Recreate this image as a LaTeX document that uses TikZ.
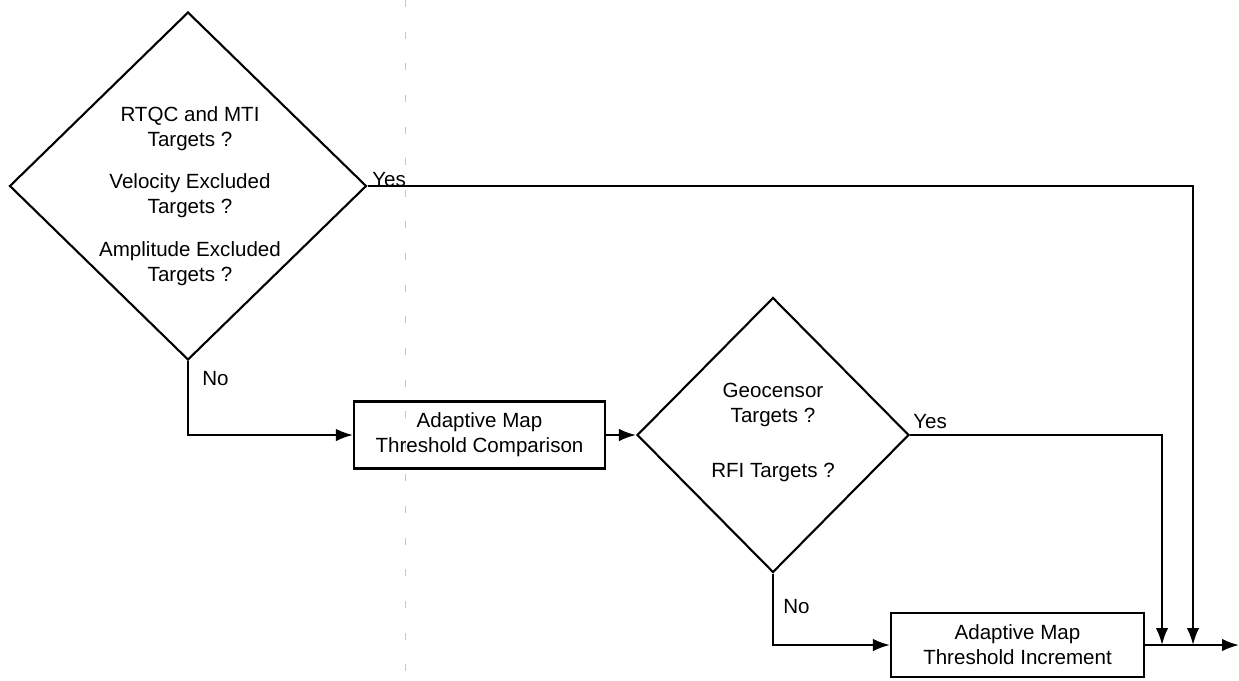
\documentclass[tikz,border=0pt]{standalone}
\usepackage{fontspec}
\setmainfont{Liberation Sans}
\usetikzlibrary{shapes.geometric, arrows.meta}

\begin{document}
\begin{tikzpicture}[x=0.02cm, y=-0.02cm,
    every node/.style={font=\fontsize{11.7pt}{14.2pt}\selectfont},
    decision/.style={draw, diamond, line width=1.2pt, inner sep=0pt, align=center},
    procbox/.style={draw, rectangle, line width=1.2pt, align=center},
    arr/.style={-{Latex[length=0.34cm, width=0.25cm]}, line width=1.2pt},
    flowline/.style={line width=1.2pt}]

        \useasboundingbox (0,0) rectangle (1239,680);

        % Fold mark of the scan
        \draw[gray!45, line width=0.4pt, dash pattern=on 4pt off 14pt] (405,0) -- (405,680);

        % First decision
        \node[decision, minimum width=7.14cm, minimum height=6.96cm] (qfirst) at (188,186) {};
        \node[align=center] (qfirsttext) at (190,196)
            {RTQC and MTI\\Targets ?\\[10pt]Velocity Excluded\\Targets ?\\[10pt]Amplitude Excluded\\Targets ?};

        % Threshold comparison
        \node[procbox, minimum width=5.02cm, minimum height=1.34cm] (compare) at (479.5,435)
            {Adaptive Map\\Threshold Comparison};

        % Second decision
        \node[decision, minimum width=5.44cm, minimum height=5.5cm] (qgeo) at (773,435)
            {Geocensor\\Targets ?\\[17pt]RFI Targets ?\rule[-5pt]{0pt}{0pt}};

        % Threshold increment
        \node[procbox, minimum width=5.06cm, minimum height=1.28cm] (increment) at (1017.5,645)
            {Adaptive Map\\Threshold Increment};

        % Junctions and output
        \coordinate (joingeo) at (1162,645);
        \coordinate (joinfirst) at (1193,645);
        \coordinate (outend) at (1239,645);

        % Labels
        \node[anchor=west, inner sep=0pt] (yesfirst) at (372,180) {Yes};
        \node[anchor=west, inner sep=0pt] (nofirst) at (202,379) {No};
        \node[anchor=west, inner sep=0pt] (yesgeo) at (913,422) {Yes};
        \node[anchor=west, inner sep=0pt] (nogeo) at (783,607) {No};

        % Arrows
        \draw[arr] (qfirst.south) |- (compare.west);
        \draw[arr] (compare.east) -- (qgeo.west);
        \draw[arr] (qgeo.south) |- (increment.west);
        \draw[arr] (qfirst.east) -| (joinfirst);
        \draw[arr] (qgeo.east) -| (joingeo);
        \draw[flowline] (increment.east) -- (joingeo) -- (joinfirst);
        \draw[arr] (joinfirst) -- (outend);

    \end{tikzpicture}
\end{document}
